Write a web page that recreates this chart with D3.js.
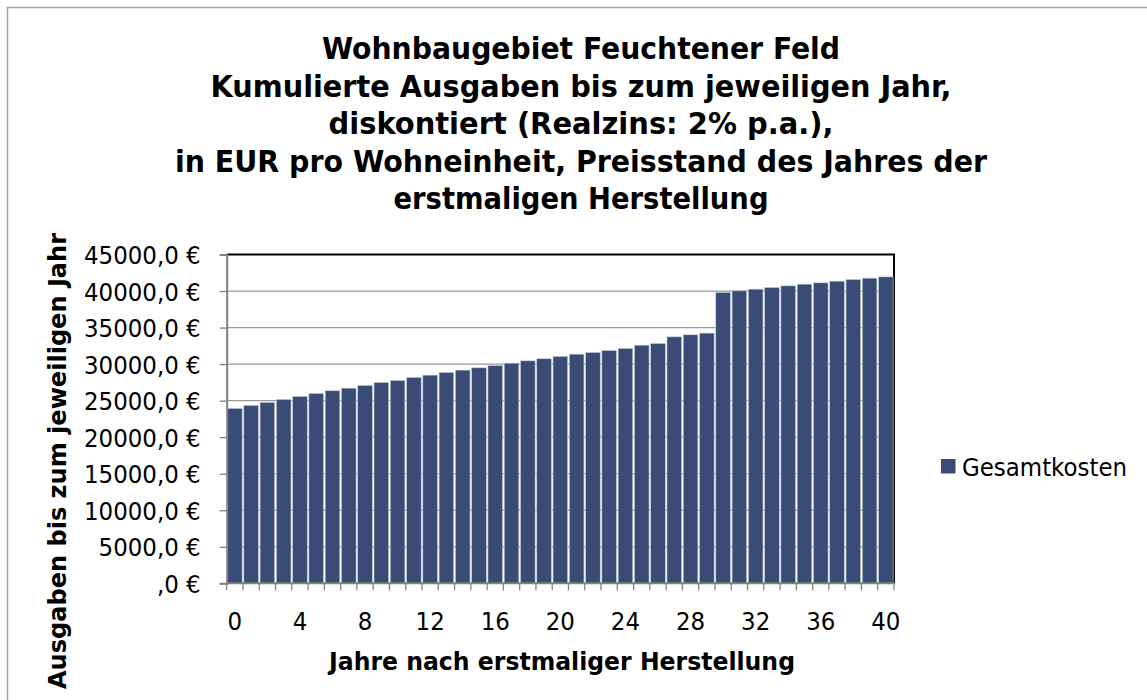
<!DOCTYPE html>
<html>
<head>
<meta charset="utf-8">
<script src="https://cdn.jsdelivr.net/npm/d3@7"></script>
<style>
  body { margin: 0; background: #fff; }
  svg text { font-family: "DejaVu Sans Condensed", "DejaVu Sans", sans-serif; font-stretch: condensed; fill: #000; }
</style>
</head>
<body>
<div id="chart"></div>
<script>
// chart data
const years = d3.range(0, 41);
const gesamtkosten = [23940, 24350, 24760, 25170, 25580, 25990, 26350, 26710, 27080, 27490,
  27770, 28180, 28490, 28860, 29180, 29490, 29810, 30130, 30450, 30730,
  31050, 31360, 31590, 31860, 32140, 32590, 32820, 33730, 34010, 34240,
  39800, 40030, 40260, 40480, 40710, 40940, 41120, 41350, 41580, 41760, 41940];
const yTicks = [0, 5000, 10000, 15000, 20000, 25000, 30000, 35000, 40000, 45000];
const xLabelYears = [0, 4, 8, 12, 16, 20, 24, 28, 32, 36, 40];
const titleLines = [
  "Wohnbaugebiet Feuchtener Feld",
  "Kumulierte Ausgaben bis zum jeweiligen Jahr,",
  "diskontiert (Realzins: 2% p.a.),",
  "in EUR pro Wohneinheit, Preisstand des Jahres der",
  "erstmaligen Herstellung"
];
const titleWidths = [518, 741, 505, 812, 375];
const seriesName = "Gesamtkosten";

const WIDTH = 1147;
const HEIGHT = 700;
const plot = { left: 226.7, right: 894, top: 254.5, bottom: 583.3 };

const svg = d3.select("#chart").append("svg")
  .attr("width", WIDTH).attr("height", HEIGHT);

// chart area border
svg.append("rect")
  .attr("x", 7.5).attr("y", 7.5)
  .attr("width", WIDTH + 20).attr("height", HEIGHT + 20)
  .attr("fill", "#fff").attr("stroke", "#a6a6a6").attr("stroke-width", 1.5);

// title
svg.append("g").selectAll("text")
  .data(titleLines)
  .join("text")
  .attr("x", 581)
  .attr("y", (d, i) => 59 + i * 37.5)
  .attr("text-anchor", "middle")
  .attr("font-size", 30.5)
  .attr("font-weight", "bold")
  .attr("textLength", (d, i) => titleWidths[i])
  .attr("lengthAdjust", "spacingAndGlyphs")
  .text(d => d);

const x = d3.scaleBand()
  .domain(years)
  .range([plot.left, plot.right])
  .paddingInner(0.1)
  .paddingOuter(0.05);

const y = d3.scaleLinear()
  .domain([0, 45000])
  .range([plot.bottom, plot.top]);

// gridlines
svg.append("g").selectAll("line")
  .data(yTicks.filter(t => t > 0 && t < 45000))
  .join("line")
  .attr("x1", plot.left).attr("x2", plot.right)
  .attr("y1", d => y(d)).attr("y2", d => y(d))
  .attr("stroke", "#9a9a9a").attr("stroke-width", 1.3);

// plot area border (top and right black)
svg.append("path")
  .attr("d", `M${plot.left},${plot.top}H${plot.right}V${plot.bottom}`)
  .attr("fill", "none").attr("stroke", "#000").attr("stroke-width", 2);

// bars
svg.append("g").selectAll("rect")
  .data(gesamtkosten)
  .join("rect")
  .attr("x", (d, i) => x(years[i]))
  .attr("y", d => y(d))
  .attr("width", x.bandwidth())
  .attr("height", d => y(0) - y(d))
  .attr("fill", "#384c77")
  .attr("stroke", "#c9ceda")
  .attr("stroke-width", 0.6);

// y axis
const yAxis = d3.axisLeft(y)
  .tickValues(yTicks)
  .tickSize(7)
  .tickPadding(19)
  .tickFormat(d => (d === 0 ? "" : d) + ",0 €");
const gy = svg.append("g")
  .attr("transform", `translate(${plot.left},0)`)
  .call(yAxis);
gy.select(".domain").attr("stroke", "#808080").attr("stroke-width", 2);
gy.selectAll(".tick line").attr("stroke", "#808080").attr("stroke-width", 1.3);
gy.selectAll(".tick text").attr("font-size", 25.5).attr("font-family", null).attr("dy", "0.36em");

// x axis: ticks at every band boundary, labels every 4 years
const gx = svg.append("g");
gx.append("line")
  .attr("x1", plot.left).attr("x2", plot.right)
  .attr("y1", plot.bottom).attr("y2", plot.bottom)
  .attr("stroke", "#808080").attr("stroke-width", 2);
gx.selectAll("line.tick")
  .data(d3.range(0, years.length + 1))
  .join("line")
  .attr("class", "tick")
  .attr("x1", i => plot.left + (plot.right - plot.left) * i / years.length)
  .attr("x2", i => plot.left + (plot.right - plot.left) * i / years.length)
  .attr("y1", plot.bottom).attr("y2", plot.bottom + 7)
  .attr("stroke", "#808080").attr("stroke-width", 1.3);
gx.selectAll("text")
  .data(xLabelYears)
  .join("text")
  .attr("x", d => x(d) + x.bandwidth() / 2)
  .attr("y", 630)
  .attr("text-anchor", "middle")
  .attr("font-size", 25.5)
  .text(d => d);

// axis titles
svg.append("text")
  .attr("x", 562).attr("y", 670)
  .attr("text-anchor", "middle")
  .attr("font-size", 25).attr("font-weight", "bold")
  .attr("textLength", 466).attr("lengthAdjust", "spacingAndGlyphs")
  .text("Jahre nach erstmaliger Herstellung");

svg.append("text")
  .attr("transform", "translate(66,461) rotate(-90)")
  .attr("text-anchor", "middle")
  .attr("font-size", 25).attr("font-weight", "bold")
  .attr("textLength", 456).attr("lengthAdjust", "spacingAndGlyphs")
  .text("Ausgaben bis zum jeweiligen Jahr");

// legend
const legend = svg.append("g").attr("transform", "translate(941,459)");
legend.append("rect")
  .attr("width", 14.5).attr("height", 14.5)
  .attr("fill", "#384c77");
legend.append("text")
  .attr("x", 21).attr("y", 16.5)
  .attr("font-size", 25)
  .attr("textLength", 165).attr("lengthAdjust", "spacingAndGlyphs")
  .text(seriesName);
</script>
</body>
</html>
